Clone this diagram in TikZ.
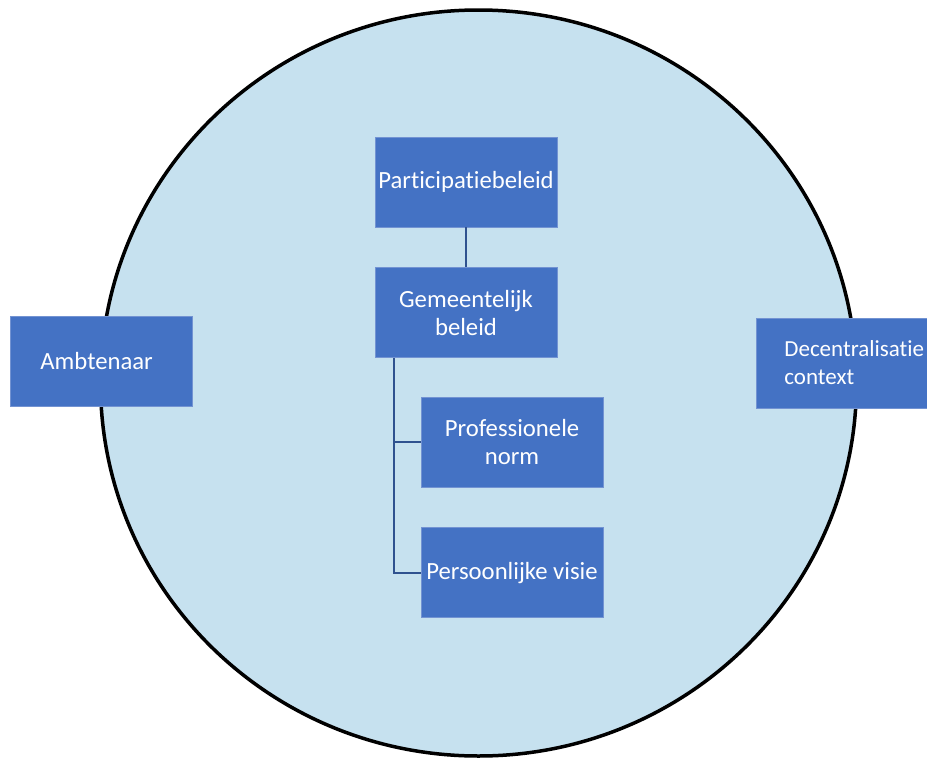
\documentclass[tikz,border=0pt]{standalone}
\usepackage{fontspec}
\setmainfont{Carlito}[Ligatures=NoCommon]
\usepackage{xcolor}
\usepackage{tikz}
\usetikzlibrary{positioning}

\definecolor{blokblauw}{HTML}{4472C4}
\definecolor{randblauw}{HTML}{7393D2}
\definecolor{lijnblauw}{HTML}{2F528F}
\definecolor{cirkelblauw}{HTML}{C6E1EF}

\begin{document}
\begin{tikzpicture}[x=1pt, y=-1pt,
    blok/.style={draw=randblauw, line width=0.8pt, fill=blokblauw, text=white,
        minimum width=182pt, minimum height=90pt, inner sep=0pt, align=center,
        font=\fontsize{24.7}{27.5}\selectfont},
    zijblok/.style={blok, align=left, anchor=west, text width=150pt, inner xsep=28pt},
    verbind/.style={draw=lijnblauw, line width=1.4pt}]
    \clip (0,0) rectangle (927,758);
    
    % 1. Cirkel
    \draw[line width=3.5pt, fill=cirkelblauw] (478.5,383) ellipse [x radius=378, y radius=373];
    
    % 2. Blokken in het midden
    \node[blok] (participatie) at (466,182) {Participatiebeleid};
    \node[blok, below=40pt of participatie] (gemeente) {Gemeentelijk\\beleid};
    \node[blok] (professioneel) at (512,442) {Professionele\\norm};
    \node[blok, below=40pt of professioneel] (persoonlijk) {Persoonlijke visie};
    
    % 3. Blokken aan de zijkant
    \node[zijblok, text width=122pt, inner xsep=30pt] (ambtenaar) at (10,361) {Ambtenaar};
    \node[zijblok, font=\fontsize{23}{28}\selectfont] (decentralisatie) at (756,363) {Decentralisatie\\context};
    
    % 4. Verbindingen
    \draw[verbind] (participatie) -- (gemeente);
    \draw[verbind] (gemeente.south) ++(-72,0) |- (professioneel.west);
    \draw[verbind] (gemeente.south) ++(-72,0) |- (persoonlijk.west);
\end{tikzpicture}
\end{document}
